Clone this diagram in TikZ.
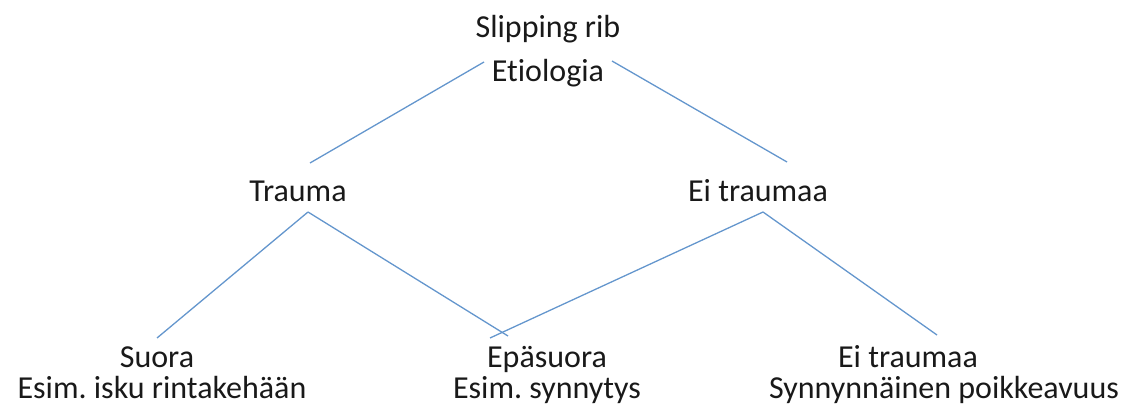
\documentclass[tikz,border=0pt]{standalone}
\usepackage{fontspec}
\setmainfont[Ligatures=NoCommon]{Carlito}
\definecolor{edge}{RGB}{100,150,205}
\definecolor{ink}{RGB}{25,25,25}
\frenchspacing
\begin{document}
\begin{tikzpicture}[x=1pt,y=-1pt,
  lbl/.style={anchor=base,inner sep=0pt,text=ink,font=\fontsize{32}{38}\selectfont},
  conn/.style={draw=edge,line width=1.3pt}]
\useasboundingbox (0,0) rectangle (1145,414);
% text nodes
\node[lbl] (root1) at (548,38) {Slipping rib};
\node[lbl] (root2) at (548,82) {Etiologia};
\node[lbl] (tr) at (298,201) {Trauma};
\node[lbl] (eit) at (758,201) {Ei traumaa};
\node[lbl] (su1) at (157,367) {Suora};
\node[lbl] (su2) at (162,398) {Esim. isku rintakehään};
\node[lbl] (ep1) at (547,367) {Epäsuora};
\node[lbl] (ep2) at (547,398) {Esim. synnytys};
\node[lbl] (ei1) at (908,367) {Ei traumaa};
\node[lbl] (ei2) at (944,398) {Synnynnäinen poikkeavuus};
% connector end points
\coordinate (rL) at (484,62);
\coordinate (rR) at (612,61);
\coordinate (trTop) at (310,163);
\coordinate (eitTop) at (787,162);
\coordinate (trBot) at (308,212);
\coordinate (eitBot) at (763,212);
\coordinate (suTop) at (157,338);
\coordinate (epTopL) at (508,336);
\coordinate (epTopR) at (490,338);
\coordinate (eiTop) at (937,335);
\draw[conn] (rL) -- (trTop);
\draw[conn] (rR) -- (eitTop);
\draw[conn] (trBot) -- (suTop);
\draw[conn] (trBot) -- (epTopL);
\draw[conn] (eitBot) -- (epTopR);
\draw[conn] (eitBot) -- (eiTop);
\end{tikzpicture}
\end{document}
